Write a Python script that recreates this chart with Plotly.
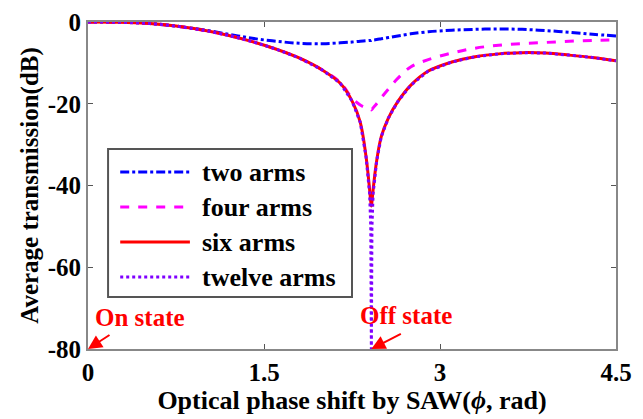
import plotly.graph_objects as go

phase = [0, 0.25, 0.5, 0.75, 1.0, 1.2, 1.4, 1.6, 1.8, 2.0, 2.15, 2.25, 2.32, 2.37, 2.40, 2.41,
         2.415, 2.42, 2.43, 2.46, 2.5, 2.56, 2.64, 2.75, 2.9, 3.1, 3.3, 3.5, 3.7, 3.9, 4.1, 4.3, 4.5]

two_arms = [0, -0.05, -0.3, -1.0, -2.0, -3.0, -4.0, -4.7, -5.2, -5.3, -5.1, -4.9, -4.7, -4.6, -4.5, -4.5,
            -4.5, -4.4, -4.4, -4.3, -4.1, -3.8, -3.4, -2.9, -2.4, -2.0, -1.8, -1.7, -1.8, -2.1, -2.5, -3.0, -3.4]

four_arms = [0, -0.05, -0.3, -1.0, -2.1, -3.3, -4.8, -6.6, -8.8, -11.8, -14.8, -18.6, -20.3, -21.0, -21.3, -21.4,
             -21.5, -21.4, -21.0, -20.0, -18.5, -16.4, -13.8, -11.0, -9.2, -7.6, -6.4, -5.7, -5.3, -5.0, -4.7, -4.5, -4.4]

six_arms = [0, -0.05, -0.3, -1.0, -2.1, -3.3, -4.8, -6.6, -8.8, -11.8, -15.0, -19.3, -24.5, -33.0, -41.0, -44.0,
            -45.0, -44.0, -41.0, -34.0, -28.0, -23.5, -19.5, -15.5, -12.0, -9.8, -8.5, -7.8, -7.5, -7.6, -8.1, -8.7, -9.5]

twelve_arms = [0, -0.05, -0.3, -1.0, -2.1, -3.3, -4.8, -6.6, -8.8, -11.8, -15.0, -19.3, -24.5, -33.0, -42.0, -50.0,
               -80.0, -50.0, -42.0, -34.0, -28.0, -23.5, -19.5, -15.5, -12.0, -9.8, -8.5, -7.8, -7.5, -7.6, -8.1, -8.7, -9.5]

series_names = ["two arms", "four arms", "six arms", "twelve arms"]

x_ticks = [0, 1.5, 3, 4.5]
x_tick_labels = ["0", "1.5", "3", "4.5"]
y_ticks = [0, -20, -40, -60, -80]
y_tick_labels = ["0", "-20", "-40", "-60", "-80"]

on_state = (0, -80)
off_state = (2.415, -80)

FONT = "Liberation Serif, Times New Roman, serif"

fig = go.Figure()
styles = [
    ("#0000FF", "dashdot", "spline"),
    ("#FF00FF", "dash", "spline"),
    ("#FF0000", "solid", "spline"),
    ("#7F00FF", "dot", "linear"),
]
data = [two_arms, four_arms, six_arms, twelve_arms]
for name, ys, (color, dash, shape) in zip(series_names, data, styles):
    fig.add_trace(go.Scatter(
        x=phase, y=ys, name=name, mode="lines", showlegend=False,
        line=dict(color=color, dash=dash, width=3, shape=shape),
    ))

fig.update_layout(
    width=635, height=411,
    margin=dict(l=80, r=27, t=14, b=70),
    plot_bgcolor="white", paper_bgcolor="white",
    font=dict(family=FONT, color="black", size=22, weight="bold"),
    showlegend=False,
    xaxis=dict(
        range=[0, 4.5], tickvals=x_ticks, ticktext=x_tick_labels,
        showgrid=False, zeroline=False, showline=True, linecolor="#888888", linewidth=2,
        mirror="ticks", ticks="inside", ticklen=5, tickcolor="#555555",
        tickfont=dict(size=25, family=FONT, weight="bold"),
        automargin=False,
        title=dict(text="Optical phase shift by SAW(<i>ϕ</i>, rad)", standoff=3,
                   font=dict(size=26, family=FONT, weight="bold")),
    ),
    yaxis=dict(
        range=[-80, 0], tickvals=y_ticks, ticktext=y_tick_labels,
        showgrid=False, zeroline=False, showline=True, linecolor="#888888", linewidth=2,
        mirror="ticks", ticks="inside", ticklen=5, tickcolor="#555555",
        tickfont=dict(size=25, family=FONT, weight="bold"),
        automargin=False,
        title=dict(text="Average transmission(dB)", standoff=2,
                   font=dict(size=25, family=FONT, weight="bold")),
    ),
)

# legend box (drawn in axis-domain coordinates)
fig.add_shape(type="rect", xref="x domain", yref="y domain", x0=0.038, x1=0.5, y0=0.159, y1=0.612,
              line=dict(color="#555555", width=2), fillcolor="white", layer="above")
legend_rows = [0.541, 0.434, 0.327, 0.220]
for name, (color, dash, _), yr in zip(series_names, styles, legend_rows):
    fig.add_shape(type="line", xref="x domain", yref="y domain", x0=0.061, x1=0.193, y0=yr, y1=yr,
                  line=dict(color=color, dash=dash, width=3), layer="above")
    fig.add_annotation(xref="x domain", yref="y domain", x=0.212, y=yr, text=name, showarrow=False,
                       xanchor="left", yanchor="middle",
                       font=dict(family=FONT, size=26, color="black", weight="bold"))

red_font = dict(family=FONT, size=25, color="#FF0000", weight="bold")
fig.add_annotation(x=0.04, y=-72.4, xref="x", yref="y", text="On state", showarrow=False,
                   xanchor="left", yanchor="middle", font=red_font)
fig.add_annotation(x=2.30, y=-71.9, xref="x", yref="y", text="Off state", showarrow=False,
                   xanchor="left", yanchor="middle", font=red_font)
fig.add_annotation(x=on_state[0], y=on_state[1], xref="x", yref="y", text="", showarrow=True,
                   arrowhead=2, arrowsize=1.4, arrowwidth=2, arrowcolor="#FF0000", ax=23, ay=-15)
fig.add_annotation(x=off_state[0], y=off_state[1], xref="x", yref="y", text="", showarrow=True,
                   arrowhead=2, arrowsize=1.4, arrowwidth=2, arrowcolor="#FF0000", ax=31, ay=-16)

fig.write_html("out.html")
